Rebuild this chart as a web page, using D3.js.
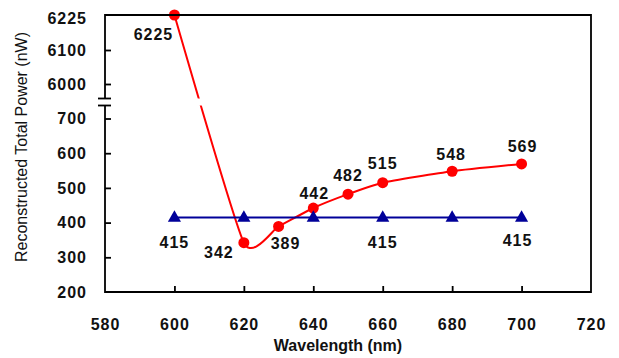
<!DOCTYPE html>
<html>
<head>
<meta charset="utf-8">
<script src="https://cdn.jsdelivr.net/npm/d3@7"></script>
<style>
  html, body { margin: 0; padding: 0; background: #fff; }
  svg { display: block; }
  text { font-family: "Liberation Sans", Arial, sans-serif; }
</style>
</head>
<body>
<svg id="chart" width="619" height="358"></svg>
<script>
// ---- data ----
const wavelengths = [600, 620, 630, 640, 650, 660, 680, 700];
const reconstructed = [6225, 342, 389, 442, 482, 515, 548, 569];
const refWavelengths = [600, 620, 640, 660, 680, 700];
const reference = [415, 415, 415, 415, 415, 415];
const refLabelled = [600, 660, 700];
const xTicks = [580, 600, 620, 640, 660, 680, 700, 720];
const yTicks = [200, 300, 400, 500, 600, 700, 6000, 6100, 6225];

// label placement (offsets in px, styling only)
const redLabelOffsets = [[-21, 19], [-25, 10], [7, 17], [1, -15], [0, -19], [0, -19], [-1, -17], [1, -18]];
const blueLabelOffsets = { 600: [0, 25], 660: [0, 25], 700: [-4, 23] };

// ---- layout ----
const svg = d3.select("#chart");
const L = 105, R = 591, T = 15, B = 292;

const x = d3.scaleLinear().domain([580, 720]).range([L, R]);
// broken axis: lower segment 200-700, upper segment 6000-6225
const y = d3.scaleLinear()
  .domain([200, 700, 6000, 6100, 6225])
  .range([B, 118.5, 84, 50, 15]);
const breakTop = 98.5, breakBot = 105.5;

// ---- red smoothed line ----
const line = d3.line().x(d => x(d[0])).y(d => y(d[1])).curve(d3.curveCardinal.tension(0.5));
const redPts = wavelengths.map((w, i) => [w, reconstructed[i]]);
svg.append("path").attr("d", line(redPts))
  .attr("fill", "none").attr("stroke", "#ff0000").attr("stroke-width", 2);

// gap for the axis break
svg.append("rect").attr("x", L - 3).attr("y", breakTop).attr("width", R - L).attr("height", breakBot - breakTop)
  .attr("fill", "#fff");

// ---- blue line ----
const bluePts = refWavelengths.map((w, i) => [w, reference[i]]);
svg.append("path").attr("d", d3.line().x(d => x(d[0])).y(d => y(d[1]))(bluePts))
  .attr("fill", "none").attr("stroke", "#000099").attr("stroke-width", 2);

// ---- markers ----
svg.selectAll("circle.red").data(redPts).enter().append("circle")
  .attr("cx", d => x(d[0])).attr("cy", d => y(d[1])).attr("r", 5.5)
  .attr("fill", "#ff0000");

const tri = d3.symbol().type(d3.symbolTriangle).size(75);
svg.selectAll("path.tri").data(bluePts).enter().append("path")
  .attr("d", tri).attr("transform", d => `translate(${x(d[0])},${y(d[1]) + 0.5})`)
  .attr("fill", "#000099");

// ---- frame and axes ----
const frame = svg.append("g").attr("stroke", "#000").attr("stroke-width", 1.8).attr("fill", "none");
frame.append("path").attr("d", `M${L},${breakTop}V${T}H${R}V${B}H${L}V${breakBot}`);
// break marks
frame.append("line").attr("x1", L - 7).attr("x2", L + 6).attr("y1", breakTop).attr("y2", breakTop);
frame.append("line").attr("x1", L - 7).attr("x2", L + 6).attr("y1", breakBot).attr("y2", breakBot);

const yAxis = svg.append("g").attr("transform", `translate(${L},0)`)
  .call(d3.axisLeft(y).tickValues(yTicks).tickSize(-6).tickPadding(18).tickFormat(d3.format("d")));
const xAxis = svg.append("g").attr("transform", `translate(0,${B})`)
  .call(d3.axisBottom(x).tickValues(xTicks).tickSize(-6).tickPadding(27).tickFormat(d3.format("d")));
[yAxis, xAxis].forEach(g => {
  g.select(".domain").remove();
  g.selectAll(".tick line").attr("stroke", "#000").attr("stroke-width", 1.8);
  g.selectAll(".tick text").attr("fill", "#111").style("font-size", "16px")
    .style("font-weight", "bold").style("letter-spacing", "1px")
    .style("font-family", "'Liberation Sans', Arial, sans-serif");
});
yAxis.selectAll(".tick").filter(d => d === 200 || d === 6225).select("line").remove();
yAxis.selectAll(".tick").filter(d => d === 6225).select("text").attr("dy", "0.5em");
xAxis.selectAll(".tick").filter(d => d === 580 || d === 720).select("line").remove();

// ---- data labels ----
const lblStyle = sel => sel.attr("text-anchor", "middle").attr("fill", "#111")
  .style("font-size", "16px").style("font-weight", "bold").style("letter-spacing", "1px");
svg.selectAll("text.rl").data(redPts).enter().append("text")
  .attr("x", (d, i) => x(d[0]) + redLabelOffsets[i][0])
  .attr("y", (d, i) => y(d[1]) + redLabelOffsets[i][1])
  .attr("dy", "0.35em").text(d => d[1]).call(lblStyle);
svg.selectAll("text.bl").data(bluePts.filter(d => refLabelled.includes(d[0]))).enter().append("text")
  .attr("x", d => x(d[0]) + blueLabelOffsets[d[0]][0])
  .attr("y", d => y(d[1]) + blueLabelOffsets[d[0]][1])
  .attr("dy", "0.35em").text(d => d[1]).call(lblStyle);

// ---- axis titles ----
svg.append("text").attr("x", 338).attr("y", 351).attr("text-anchor", "middle")
  .attr("fill", "#111").style("font-size", "16px").style("font-weight", "bold")
  .text("Wavelength (nm)");
svg.append("text").attr("transform", "translate(27,147) rotate(-90)").attr("text-anchor", "middle")
  .attr("fill", "#111").style("font-size", "16px")
  .text("Reconstructed Total Power (nW)");
</script>
</body>
</html>
